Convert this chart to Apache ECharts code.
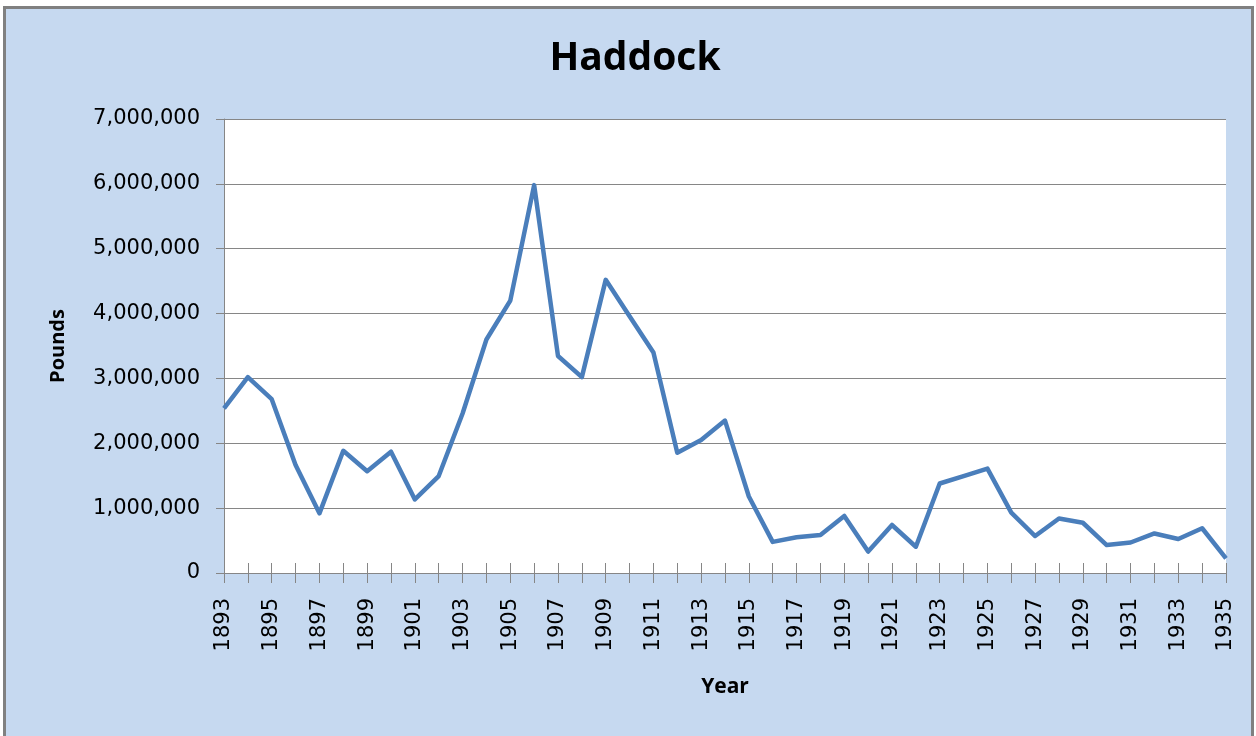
<!DOCTYPE html>
<html>
<head>
<meta charset="utf-8">
<script src="https://cdn.jsdelivr.net/npm/echarts@6/dist/echarts.min.js"></script>
<style>
  html, body { margin: 0; padding: 0; background: #fff; }
  #chart { width: 1256px; height: 736px; }
</style>
</head>
<body>
<div id="chart"></div>
<script>
// years on the category axis
var years = [];
for (var y = 1893; y <= 1935; y++) years.push(String(y));

// pounds landed
var pounds = [
  2540000, 3020000, 2680000, 1665000, 920000, 1885000, 1570000, 1870000, 1135000, 1495000,
  2460000, 3600000, 4200000, 5980000, 3345000, 3020000, 4520000, 3960000, 3400000, 1855000,
  2050000, 2350000, 1180000, 480000, 550000, 585000, 880000, 330000, 740000, 405000,
  1380000, 1495000, 1610000, 930000, 570000, 840000, 775000, 430000, 470000, 610000,
  525000, 690000, 225000
];

var titleText = 'Haddock';
var yName = 'Pounds';
var xName = 'Year';

var boldFont = '"Open Sans", "Noto Sans", sans-serif';
var labelFont = '"DejaVu Sans", sans-serif';

var myChart = echarts.init(document.getElementById('chart'));

var option = {
  backgroundColor: '#ffffff',
  animation: false,
  graphic: [{
    type: 'rect',
    z: -100,
    shape: { x: 4.5, y: 7.5, width: 1248, height: 740 },
    style: { fill: '#c6d9f0', stroke: '#808080', lineWidth: 3 }
  }],
  title: {
    text: titleText,
    left: 630,
    textAlign: 'center',
    top: 34,
    textStyle: { fontFamily: boldFont, fontWeight: 'bold', fontSize: 39, color: '#000' }
  },
  grid: {
    left: 224, right: 30, top: 119, bottom: 163,
    show: true, backgroundColor: '#ffffff', borderWidth: 0
  },
  xAxis: [{
    type: 'category',
    data: years,
    boundaryGap: false,
    name: xName,
    nameLocation: 'middle',
    nameGap: 104,
    nameTextStyle: { fontFamily: boldFont, fontWeight: 'bold', fontSize: 21, color: '#000' },
    axisLine: { lineStyle: { color: '#868686', width: 1 } },
    axisTick: { show: true, interval: 0, length: 10, lineStyle: { color: '#868686' } },
    axisLabel: {
      interval: 1, rotate: 90, margin: 25,
      fontFamily: labelFont, fontSize: 21, color: '#000'
    },
    splitLine: { show: false }
  }, {
    // inner half of the cross tick marks
    type: 'category',
    data: years,
    boundaryGap: false,
    position: 'bottom',
    axisLine: { show: false },
    axisTick: { show: true, inside: true, interval: 0, length: 10, lineStyle: { color: '#868686' } },
    axisLabel: { show: false },
    splitLine: { show: false }
  }],
  yAxis: {
    type: 'value',
    min: 0,
    max: 7000000,
    interval: 1000000,
    name: yName,
    nameLocation: 'middle',
    nameRotate: 90,
    nameGap: 156,
    nameTextStyle: { fontFamily: boldFont, fontWeight: 'bold', fontSize: 20, color: '#000' },
    axisLine: { show: true, lineStyle: { color: '#868686', width: 1 } },
    axisTick: { show: true, length: 8, lineStyle: { color: '#868686' } },
    axisLabel: {
      margin: 24, fontFamily: labelFont, fontSize: 21, color: '#000',
      formatter: function (v) { return v.toLocaleString('en-US'); }
    },
    splitLine: { lineStyle: { color: '#868686', width: 1 } }
  },
  series: [{
    type: 'line',
    data: pounds,
    showSymbol: false,
    symbol: 'none',
    lineStyle: { color: '#4a7ebb', width: 4.5, join: 'round' },
    itemStyle: { color: '#4a7ebb' }
  }]
};

myChart.setOption(option);
window.onresize = function () {
  myChart.resize();
};
</script>
</body>
</html>
